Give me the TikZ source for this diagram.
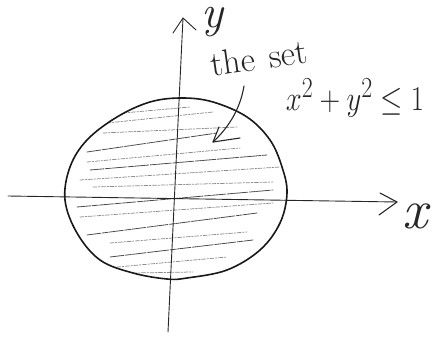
\documentclass[tikz,border=0pt]{standalone}
\usetikzlibrary{calc}
\begin{document}
\begin{tikzpicture}[x=1pt,y=-1pt,line cap=round,line join=round,
  axisline/.style={draw=black!85,line width=0.9pt},
  rimline/.style={draw=black!90,line width=1.6pt},
  penline/.style={draw=black!85,line width=1.1pt},
  hatchdark/.style={draw=black!70,line width=0.8pt,dash pattern=on 14pt off 1.5pt on 6pt off 1pt},
  hatchlight/.style={draw=black!45,line width=0.75pt,dash pattern=on 4pt off 1.5pt on 1.5pt off 1.5pt},
  hand/.style={inner sep=0pt,text=black!85}]
\useasboundingbox (0,0) rectangle (433,339);
\def\blob{plot[smooth cycle,tension=0.6] coordinates {(182,98) (213,102) (247,117) (270,140) (282,167) (287,193) (280,223) (260,250) (227,270) (187,278) (167,279) (133,273) (100,260) (77,233) (65,200) (70,167) (87,140) (117,117) (150,102)}}
% hatching
\begin{scope}
\clip \blob;
\draw[hatchlight] (123,113) -- (190,107);
\draw[hatchlight] (107,123) -- (213,112);
\draw[hatchlight] (103,133) -- (237,127);
\draw[hatchdark]  (87,152) -- (217,133);
\draw[hatchlight] (87,162) -- (240,148);
\draw[hatchdark]  (90,170) -- (267,155);
\draw[hatchlight] (80,180) -- (280,167);
\draw[hatchlight] (93,187) -- (273,182);
\draw[hatchdark]  (77,207) -- (273,190);
\draw[hatchlight] (80,217) -- (273,203);
\draw[hatchdark]  (87,235) -- (257,213);
\draw[hatchlight] (110,243) -- (247,232);
\draw[hatchdark]  (110,257) -- (253,240);
\draw[hatchlight] (117,267) -- (227,257);
\draw[hatchlight] (133,273) -- (193,272);
\end{scope}
% axes
\coordinate (ybot) at (168,332);
\coordinate (ytip) at (183,18);
\coordinate (xleft) at (8,196);
\coordinate (xtip) at (397,202);
\draw[axisline] (ybot) -- (ytip);
\draw[axisline] (173,33) -- (ytip) -- (196,30);
\draw[axisline] (xleft) -- (xtip);
\draw[penline] (380,193) -- (xtip) -- (379,215);
% circle
\draw[rimline] \blob;
% labels
\node[hand] (ylab) at (212,22) {\fontsize{46}{46}\selectfont\itshape y};
\node[hand] (xlab) at (415,216) {\fontsize{56}{56}\selectfont\itshape x};
\node[hand,rotate=8] (setlab) at (259,58) {\fontsize{35}{38}\selectfont the\hspace{14pt}set};
\node[hand] (eqlab) at (355,98) {\scalebox{1.15}[1.4]{\fontsize{24.88}{28}\selectfont$x^2+y^2\le1$}};
% arrow into the set
\coordinate (astart) at (244,86);
\coordinate (atip) at (213,142);
\draw[penline] (astart) .. controls (240,110) and (228,128) .. (atip);
\draw[penline] (219,127) -- (atip) -- (240,138);
\end{tikzpicture}
\end{document}
